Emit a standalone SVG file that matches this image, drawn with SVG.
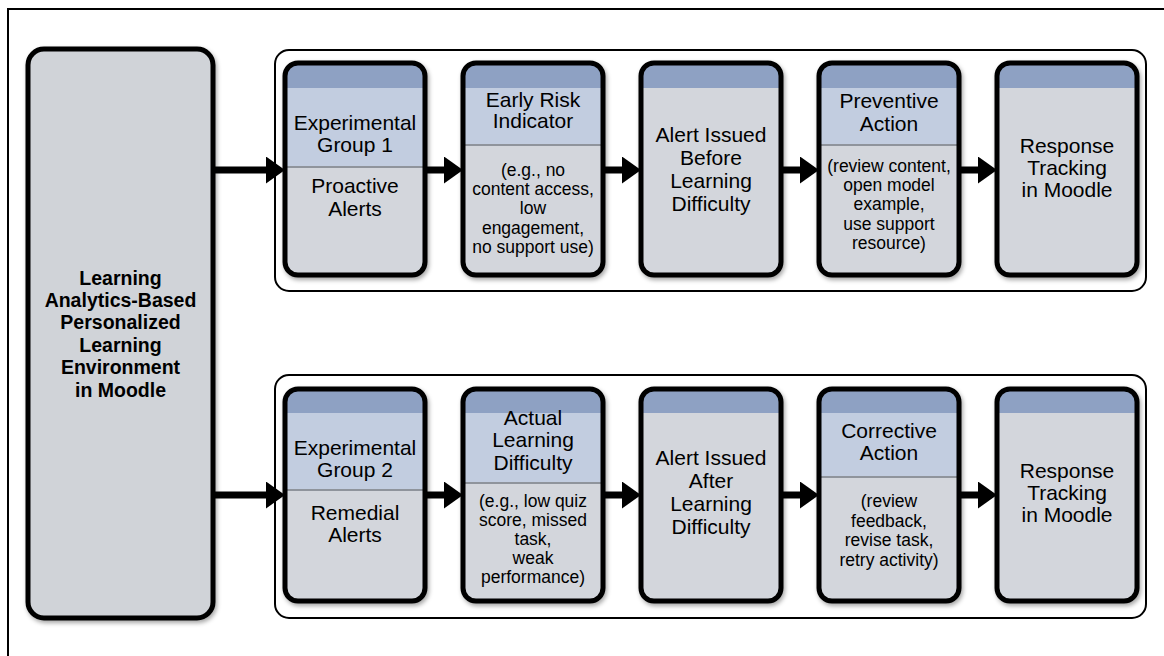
<svg xmlns="http://www.w3.org/2000/svg" width="1164" height="656" viewBox="0 0 1164 656">
<style>
.frame{fill:none;stroke:#000;stroke-width:2}
.cont{fill:#fff;stroke:#000;stroke-width:2}
.big{fill:#d0d3d8;stroke:#000;stroke-width:5}
.body{fill:#d3d6dc}
.band{fill:#8ea1c3}
.lb{fill:#c2cde0}
.div{stroke:#8f949c;stroke-width:2}
.out{fill:none;stroke:#000;stroke-width:5}
.t{font-family:"Liberation Sans",Arial,sans-serif;font-size:21px;fill:#000;text-anchor:middle}
.s{font-family:"Liberation Sans",Arial,sans-serif;font-size:17.5px;fill:#000;text-anchor:middle}
.b{font-family:"Liberation Sans",Arial,sans-serif;font-size:19.5px;font-weight:bold;fill:#000;text-anchor:middle}
.arr{stroke:#000;stroke-width:7;fill:none}
</style>
<defs>
<clipPath id="cc" clipPathUnits="userSpaceOnUse"><rect x="0" y="0" width="140" height="212" rx="13"/></clipPath>
<filter id="sh" x="-10%" y="-10%" width="125%" height="125%"><feDropShadow dx="1.5" dy="2.5" stdDeviation="2" flood-color="#000" flood-opacity="0.35"/></filter>
<marker id="ah" markerUnits="userSpaceOnUse" viewBox="0 0 19 27" markerWidth="19" markerHeight="27" refX="2" refY="13.5" orient="auto"><path d="M0,0 L19,13.5 L0,27 Z" fill="#000"/></marker>
</defs>
<rect width="1164" height="656" fill="#fff"/>
<path class="frame" d="M8,656 L8,9 L1164,9"/>

<g id="left">
<rect class="big" x="28" y="49" width="185" height="569" rx="16" filter="url(#sh)"/>
<text class="b" x="120.5" y="285">Learning</text>
<text class="b" x="120.5" y="307">Analytics-Based</text>
<text class="b" x="120.5" y="329">Personalized</text>
<text class="b" x="120.5" y="352">Learning</text>
<text class="b" x="120.5" y="374">Environment</text>
<text class="b" x="120.5" y="397">in Moodle</text>
</g>

<g id="row1">
<rect class="cont" x="275" y="50" width="871" height="241" rx="14"/>
</g>
<g id="row2">
<rect class="cont" x="275" y="375" width="871" height="243" rx="14"/>
</g>

<!-- Row 1 cards -->
<g id="r1c1" transform="translate(285,63)">
<g filter="url(#sh)"><g clip-path="url(#cc)"><rect class="body" width="140" height="212"/><rect class="band" width="140" height="25"/><rect class="lb" y="25" width="140" height="79"/><line class="div" x1="0" y1="104" x2="140" y2="104"/></g><rect class="out" width="140" height="212" rx="13"/></g>
<text class="t" x="70" y="67">Experimental</text>
<text class="t" x="70" y="89">Group 1</text>
<text class="t" x="70" y="130">Proactive</text>
<text class="t" x="70" y="153">Alerts</text>
</g>
<g id="r1c2" transform="translate(463,63)">
<g filter="url(#sh)"><g clip-path="url(#cc)"><rect class="body" width="140" height="212"/><rect class="band" width="140" height="25"/><rect class="lb" y="25" width="140" height="57"/><line class="div" x1="0" y1="82" x2="140" y2="82"/></g><rect class="out" width="140" height="212" rx="13"/></g>
<text class="t" x="70" y="44">Early Risk</text>
<text class="t" x="70" y="65">Indicator</text>
<text class="s" x="70" y="113">(e.g., no</text>
<text class="s" x="70" y="132">content access,</text>
<text class="s" x="70" y="151">low</text>
<text class="s" x="70" y="171">engagement,</text>
<text class="s" x="70" y="190">no support use)</text>
</g>
<g id="r1c3" transform="translate(641,63)">
<g filter="url(#sh)"><g clip-path="url(#cc)"><rect class="body" width="140" height="212"/><rect class="band" width="140" height="25"/></g><rect class="out" width="140" height="212" rx="13"/></g>
<text class="t" x="70" y="79">Alert Issued</text>
<text class="t" x="70" y="102">Before</text>
<text class="t" x="70" y="125">Learning</text>
<text class="t" x="70" y="148">Difficulty</text>
</g>
<g id="r1c4" transform="translate(819,63)">
<g filter="url(#sh)"><g clip-path="url(#cc)"><rect class="body" width="140" height="212"/><rect class="band" width="140" height="25"/><rect class="lb" y="25" width="140" height="57"/><line class="div" x1="0" y1="82" x2="140" y2="82"/></g><rect class="out" width="140" height="212" rx="13"/></g>
<text class="t" x="70" y="45">Preventive</text>
<text class="t" x="70" y="68">Action</text>
<text class="s" x="70" y="109">(review content,</text>
<text class="s" x="70" y="128">open model</text>
<text class="s" x="70" y="147">example,</text>
<text class="s" x="70" y="167">use support</text>
<text class="s" x="70" y="186">resource)</text>
</g>
<g id="r1c5" transform="translate(997,63)">
<g filter="url(#sh)"><g clip-path="url(#cc)"><rect class="body" width="140" height="212"/><rect class="band" width="140" height="25"/></g><rect class="out" width="140" height="212" rx="13"/></g>
<text class="t" x="70" y="90">Response</text>
<text class="t" x="70" y="112">Tracking</text>
<text class="t" x="70" y="134">in Moodle</text>
</g>

<!-- Row 2 cards -->
<g id="r2c1" transform="translate(285,389)">
<g filter="url(#sh)"><g clip-path="url(#cc)"><rect class="body" width="140" height="212"/><rect class="band" width="140" height="24"/><rect class="lb" y="24" width="140" height="77"/><line class="div" x1="0" y1="101" x2="140" y2="101"/></g><rect class="out" width="140" height="212" rx="13"/></g>
<text class="t" x="70" y="66">Experimental</text>
<text class="t" x="70" y="88">Group 2</text>
<text class="t" x="70" y="131">Remedial</text>
<text class="t" x="70" y="153">Alerts</text>
</g>
<g id="r2c2" transform="translate(463,389)">
<g filter="url(#sh)"><g clip-path="url(#cc)"><rect class="body" width="140" height="212"/><rect class="band" width="140" height="24"/><rect class="lb" y="24" width="140" height="70"/><line class="div" x1="0" y1="94" x2="140" y2="94"/></g><rect class="out" width="140" height="212" rx="13"/></g>
<text class="t" x="70" y="36">Actual</text>
<text class="t" x="70" y="58">Learning</text>
<text class="t" x="70" y="81">Difficulty</text>
<text class="s" x="70" y="118">(e.g., low quiz</text>
<text class="s" x="70" y="137">score, missed</text>
<text class="s" x="70" y="156">task,</text>
<text class="s" x="70" y="175">weak</text>
<text class="s" x="70" y="194">performance)</text>
</g>
<g id="r2c3" transform="translate(641,389)">
<g filter="url(#sh)"><g clip-path="url(#cc)"><rect class="body" width="140" height="212"/><rect class="band" width="140" height="24"/></g><rect class="out" width="140" height="212" rx="13"/></g>
<text class="t" x="70" y="76">Alert Issued</text>
<text class="t" x="70" y="99">After</text>
<text class="t" x="70" y="122">Learning</text>
<text class="t" x="70" y="145">Difficulty</text>
</g>
<g id="r2c4" transform="translate(819,389)">
<g filter="url(#sh)"><g clip-path="url(#cc)"><rect class="body" width="140" height="212"/><rect class="band" width="140" height="24"/><rect class="lb" y="24" width="140" height="64"/><line class="div" x1="0" y1="88" x2="140" y2="88"/></g><rect class="out" width="140" height="212" rx="13"/></g>
<text class="t" x="70" y="49">Corrective</text>
<text class="t" x="70" y="71">Action</text>
<text class="s" x="70" y="118">(review</text>
<text class="s" x="70" y="138">feedback,</text>
<text class="s" x="70" y="157">revise task,</text>
<text class="s" x="70" y="177">retry activity)</text>
</g>
<g id="r2c5" transform="translate(997,389)">
<g filter="url(#sh)"><g clip-path="url(#cc)"><rect class="body" width="140" height="212"/><rect class="band" width="140" height="24"/></g><rect class="out" width="140" height="212" rx="13"/></g>
<text class="t" x="70" y="89">Response</text>
<text class="t" x="70" y="111">Tracking</text>
<text class="t" x="70" y="133">in Moodle</text>
</g>

<g id="connectors">
<line class="arr" x1="213" y1="170" x2="268" y2="170" marker-end="url(#ah)"/>
<line class="arr" x1="425" y1="170" x2="446" y2="170" marker-end="url(#ah)"/>
<line class="arr" x1="603" y1="170" x2="624" y2="170" marker-end="url(#ah)"/>
<line class="arr" x1="781" y1="170" x2="802" y2="170" marker-end="url(#ah)"/>
<line class="arr" x1="959" y1="170" x2="980" y2="170" marker-end="url(#ah)"/>
<line class="arr" x1="213" y1="495" x2="268" y2="495" marker-end="url(#ah)"/>
<line class="arr" x1="425" y1="495" x2="446" y2="495" marker-end="url(#ah)"/>
<line class="arr" x1="603" y1="495" x2="624" y2="495" marker-end="url(#ah)"/>
<line class="arr" x1="781" y1="495" x2="802" y2="495" marker-end="url(#ah)"/>
<line class="arr" x1="959" y1="495" x2="980" y2="495" marker-end="url(#ah)"/>
</g>
</svg>
